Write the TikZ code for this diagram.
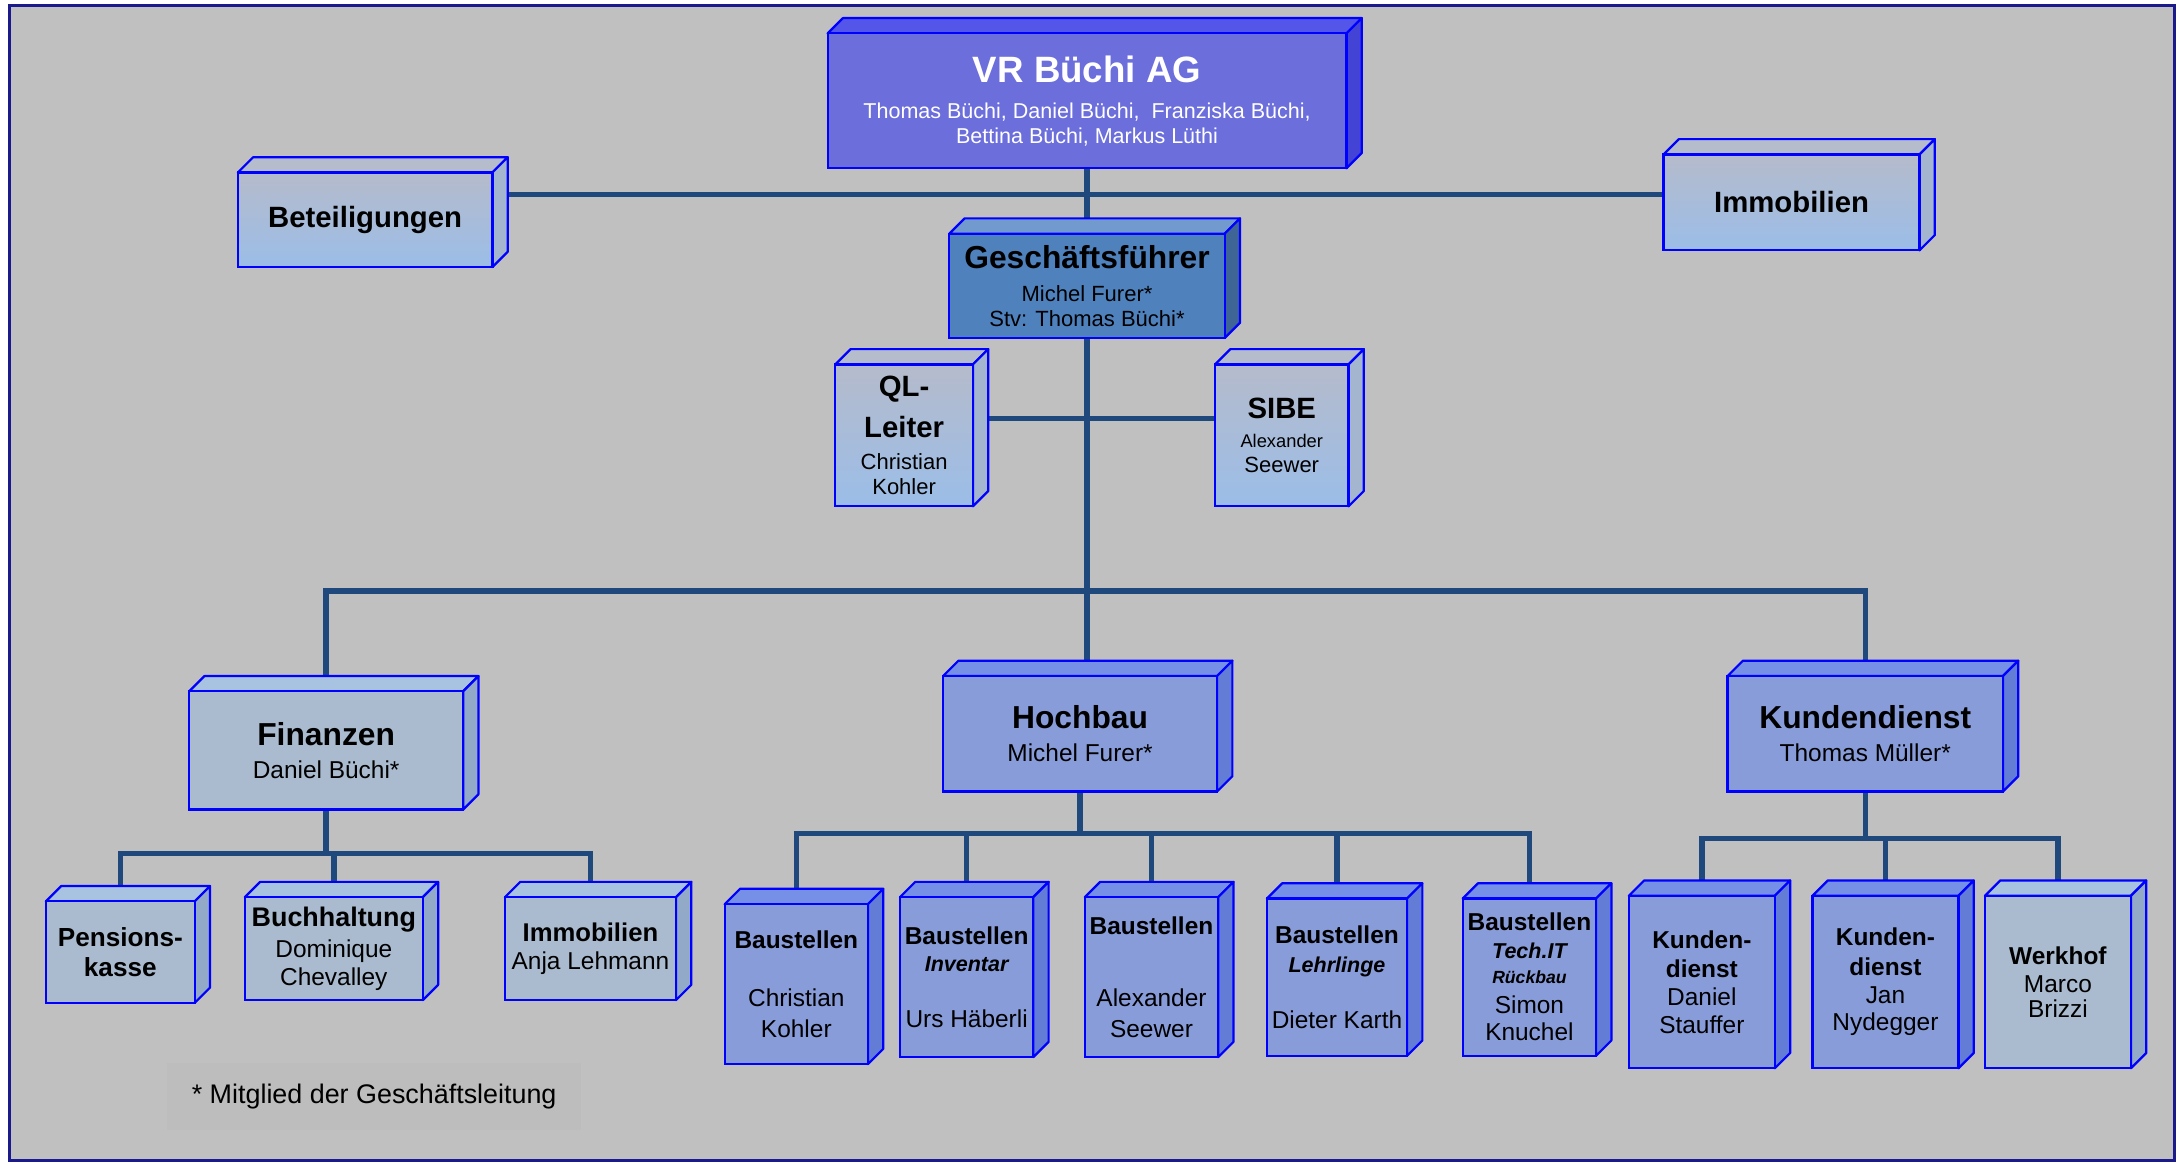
\documentclass[tikz,border=0pt]{standalone}
\usepackage{fontspec}
\setmainfont{Liberation Sans}
\setsansfont{Liberation Sans}
\usepackage{tikz}
\usetikzlibrary{positioning, calc, backgrounds}
\definecolor{framenavy}{HTML}{1A1A8C}
\definecolor{bggray}{HTML}{C0C0C0}
\definecolor{notegray}{HTML}{BDBDBD}
\definecolor{linkblue}{HTML}{1F497D}
\definecolor{edgeblue}{HTML}{0000FF}
\definecolor{boardfront}{HTML}{6B6EDB}
\definecolor{boardtop}{HTML}{5356E8}
\definecolor{boardside}{HTML}{4343D6}
\definecolor{ceofront}{HTML}{4F81BD}
\definecolor{ceotop}{HTML}{729ACF}
\definecolor{ceoside}{HTML}{3E6596}
\definecolor{staffupper}{HTML}{B5BBCB}
\definecolor{stafflower}{HTML}{9BBDE8}
\definecolor{stafftop}{HTML}{B5BCCC}
\definecolor{staffside}{HTML}{A3B5CF}
\definecolor{steelfront}{HTML}{AABBCF}
\definecolor{steeltop}{HTML}{A8C2E2}
\definecolor{steelside}{HTML}{93A9C8}
\definecolor{perifront}{HTML}{889CD9}
\definecolor{peritop}{HTML}{7590E6}
\definecolor{periside}{HTML}{637DD6}

\begin{document}
\begin{tikzpicture}[
    % ── Box styles ───────────────────────────────────────────────────────
    cubebox/.style 2 args={
        draw=edgeblue, line width=0.9pt, outer sep=0pt,
        align=center, inner sep=2pt, text=black,
        font=\fontsize{10}{11.4}\selectfont,
        append after command={\pgfextra{
            \draw[edgeblue, line width=0.9pt, fill=#1, line join=round]
                (\tikzlastnode.north west) -- ++(0.22,0.22)
                -- ([shift={(0.22,0.22)}]\tikzlastnode.north east)
                -- (\tikzlastnode.north east) -- cycle;
            \draw[edgeblue, line width=0.9pt, fill=#2, line join=round]
                (\tikzlastnode.north east) -- ++(0.22,0.22)
                -- ([shift={(0.22,0.22)}]\tikzlastnode.south east)
                -- (\tikzlastnode.south east) -- cycle;
        }}
    },
    boardbox/.style={cubebox={boardtop}{boardside}, fill=boardfront, text=white},
    ceobox/.style={cubebox={ceotop}{ceoside}, fill=ceofront},
    staffbox/.style={cubebox={stafftop}{staffside},
        top color=staffupper, bottom color=stafflower},
    steelbox/.style={cubebox={steeltop}{steelside}, fill=steelfront},
    peribox/.style={cubebox={peritop}{periside}, fill=perifront},
    % ── Connector style ──────────────────────────────────────────────────
    conn/.style={draw=linkblue, line width=2.2pt},
    notebox/.style={fill=notegray, minimum width=5.96cm, minimum height=0.96cm,
        font=\fontsize{11}{13}\selectfont}
]

% ═══════════════════════════════════════════════════════════════════════════
% Frame
% ═══════════════════════════════════════════════════════════════════════════
\useasboundingbox (0,0) rectangle (31.36,-16.76);
\begin{scope}[on background layer]
    \fill[white] (0,0) rectangle (31.36,-16.76);
    \draw[framenavy, line width=1.2pt, fill=bggray]
        (0.14,-0.08) rectangle (31.26,-16.68);
\end{scope}

% ═══════════════════════════════════════════════════════════════════════════
% 1. Board and management
% ═══════════════════════════════════════════════════════════════════════════
\node[boardbox, minimum width=7.46cm, minimum height=1.94cm,
      font=\fontsize{8.8}{10.2}\selectfont] (board) at (15.63,-1.45)
    {{\fontsize{15}{18}\selectfont\bfseries VR Büchi AG}\\[4.6pt]
     Thomas Büchi, Daniel Büchi,\ \ Franziska Büchi,\\
     Bettina Büchi, Markus Lüthi};

\node[staffbox, minimum width=3.66cm, minimum height=1.36cm,
      font=\fontsize{12}{14}\selectfont\bfseries,
      below left=0.06cm and 4.82cm of board] (holdings) {Beteiligungen};

\node[staffbox, minimum width=3.68cm, minimum height=1.38cm,
      font=\fontsize{12}{14}\selectfont\bfseries,
      below right=-0.2cm and 4.56cm of board] (estate) {Immobilien};

\node[ceobox, minimum width=3.96cm, minimum height=1.5cm,
      font=\fontsize{9}{10.2}\selectfont,
      below=0.94cm of board] (ceo)
    {{\fontsize{13}{15}\selectfont\bfseries Geschäftsführer}\\[3.5pt]
     Michel Furer*\\ Stv: Thomas Büchi*};

% Staff positions
\node[staffbox, minimum width=1.98cm, minimum height=2.04cm,
      font=\fontsize{9}{10.2}\selectfont,
      below=0.38cm of ceo, xshift=-2.63cm] (quality)
    {{\fontsize{12}{14}\selectfont\bfseries QL-}\\[4.6pt]
     {\fontsize{12}{14}\selectfont\bfseries Leiter}\\[2.9pt]
     Christian\\ Kohler};

\node[staffbox, minimum width=1.92cm, minimum height=2.04cm,
      font=\fontsize{9}{10.2}\selectfont,
      below=0.38cm of ceo, xshift=2.80cm] (safety)
    {{\fontsize{12}{14}\selectfont\bfseries SIBE}\\[1.8pt]
     {\fontsize{7.5}{9}\selectfont Alexander}\\ Seewer};

% ═══════════════════════════════════════════════════════════════════════════
% 2. Departments
% ═══════════════════════════════════════════════════════════════════════════
\node[peribox, minimum width=3.94cm, minimum height=1.66cm,
      below=4.86cm of ceo, xshift=-0.1cm] (building)
    {{\fontsize{13}{15}\selectfont\bfseries Hochbau}\\[2.2pt] Michel Furer*};

\node[steelbox, minimum width=3.94cm, minimum height=1.70cm,
      left=6.9cm of building, yshift=-0.24cm] (finance)
    {{\fontsize{13}{15}\selectfont\bfseries Finanzen}\\[2.2pt] Daniel Büchi*};

\node[peribox, minimum width=3.96cm, minimum height=1.66cm,
      right=7.34cm of building] (service)
    {{\fontsize{13}{15}\selectfont\bfseries Kundendienst}\\[2.2pt] Thomas Müller*};

% ═══════════════════════════════════════════════════════════════════════════
% 3. Finance units
% ═══════════════════════════════════════════════════════════════════════════
\node[steelbox, minimum width=2.56cm, minimum height=1.48cm,
      below=1.26cm of finance, xshift=0.11cm] (accounting)
    {{\fontsize{11}{13}\selectfont\bfseries Buchhaltung}\\[1.1pt]
     Dominique\\ Chevalley};

\node[steelbox, minimum width=2.14cm, minimum height=1.46cm,
      font=\fontsize{10.7}{12.5}\selectfont\bfseries,
      left=0.72cm of accounting, yshift=-0.05cm] (pension)
    {Pensions-\\kasse};

\node[steelbox, minimum width=2.46cm, minimum height=1.48cm,
      right=1.18cm of accounting] (property)
    {{\fontsize{10.5}{12}\selectfont\bfseries Immobilien}\\ Anja Lehmann};

% ═══════════════════════════════════════════════════════════════════════════
% 4. Construction sites
% ═══════════════════════════════════════════════════════════════════════════
\node[peribox, minimum width=2.06cm, minimum height=2.30cm,
      font=\fontsize{10}{12.5}\selectfont,
      below left=1.62cm and 1.08cm of building] (siteA)
    {\textbf{Baustellen}\\[11.4pt] Christian\\ Kohler};

\node[peribox, minimum width=1.88cm, minimum height=2.30cm,
      right=0.46cm of siteA, yshift=0.1cm] (siteB)
    {\textbf{Baustellen}\\
     {\fontsize{8.8}{10}\selectfont\bfseries\itshape Inventar}\\[11.4pt]
     Urs Häberli};

\node[peribox, minimum width=1.84cm, minimum height=2.30cm,
      font=\fontsize{10}{12.5}\selectfont,
      right=0.74cm of siteB] (siteC)
    {\textbf{Baustellen}\\[17.1pt] Alexander\\ Seewer};

\node[peribox, minimum width=1.84cm, minimum height=2.26cm,
      font=\fontsize{10}{12}\selectfont,
      right=0.70cm of siteC] (siteD)
    {\textbf{Baustellen}\\
     {\fontsize{8.8}{10}\selectfont\bfseries\itshape Lehrlinge}\\[10.8pt]
     Dieter Karth};

\node[peribox, minimum width=1.88cm, minimum height=2.26cm,
      right=0.80cm of siteD] (siteE)
    {\textbf{Baustellen}\\
     {\fontsize{8.8}{10}\selectfont\bfseries\itshape Tech.IT}\\[-1.2pt]
     {\fontsize{7.2}{9}\selectfont\bfseries\itshape Rückbau}\\[0.6pt]
     Simon\\ Knuchel};

% ═══════════════════════════════════════════════════════════════════════════
% 5. Customer service units
% ═══════════════════════════════════════════════════════════════════════════
\node[peribox, minimum width=2.10cm, minimum height=2.48cm,
      below=1.5cm of service, xshift=0.29cm] (serviceB)
    {\textbf{Kunden-}\\[0.6pt] \textbf{dienst}\\ Jan\\ Nydegger};

\node[peribox, minimum width=2.10cm, minimum height=2.48cm,
      left=0.54cm of serviceB] (serviceA)
    {\textbf{Kunden-}\\[0.6pt] \textbf{dienst}\\ Daniel\\ Stauffer};

\node[steelbox, minimum width=2.10cm, minimum height=2.48cm,
      right=0.38cm of serviceB] (yard)
    {\textbf{Werkhof}\\ Marco\\[-1.2pt] Brizzi};

% Footnote
\node[notebox, below=0.9cm of accounting, xshift=0.58cm] (note)
    {* Mitglied der Geschäftsleitung};

% ═══════════════════════════════════════════════════════════════════════════
% Connectors
% ═══════════════════════════════════════════════════════════════════════════
\coordinate (topbus) at ($(board.south)!0.4!(ceo.north)$);
\coordinate (midbus) at ($(safety.south)!0.5!(building.north)$);
\coordinate (finbus) at ($(finance.south)!0.5!(accounting.north)$);
\coordinate (sitebus) at ($(building.south)!0.4!(siteC.north)$);
\coordinate (servbus) at ($(service.south)!0.45!(serviceB.north)$);

\begin{scope}[on background layer]
    \draw[conn] (board.south) -- (board.south |- ceo.north);
    \draw[conn] (holdings |- topbus) -- (estate |- topbus);
    \draw[conn] (ceo.south) -- (ceo.south |- building.north);
    \draw[conn] ([yshift=0.24cm]quality.center) -- ([yshift=0.24cm]safety.center);
    \draw[conn] (finance) |- (midbus) -| (service);

    \draw[conn] (finance) -- (finance |- finbus);
    \draw[conn] (pension) |- (finbus) -| (property);
    \draw[conn] (accounting) -- (accounting |- finbus);

    \draw[conn] (building) -- (building |- sitebus);
    \draw[conn] (siteA) |- (sitebus) -| (siteE);
    \foreach \s in {siteB, siteC, siteD}
        \draw[conn] (\s) -- (\s |- sitebus);

    \draw[conn] (service) -- (service |- servbus);
    \draw[conn] (serviceA) |- (servbus) -| (yard);
    \draw[conn] (serviceB) -- (serviceB |- servbus);
\end{scope}

\end{tikzpicture}
\end{document}
